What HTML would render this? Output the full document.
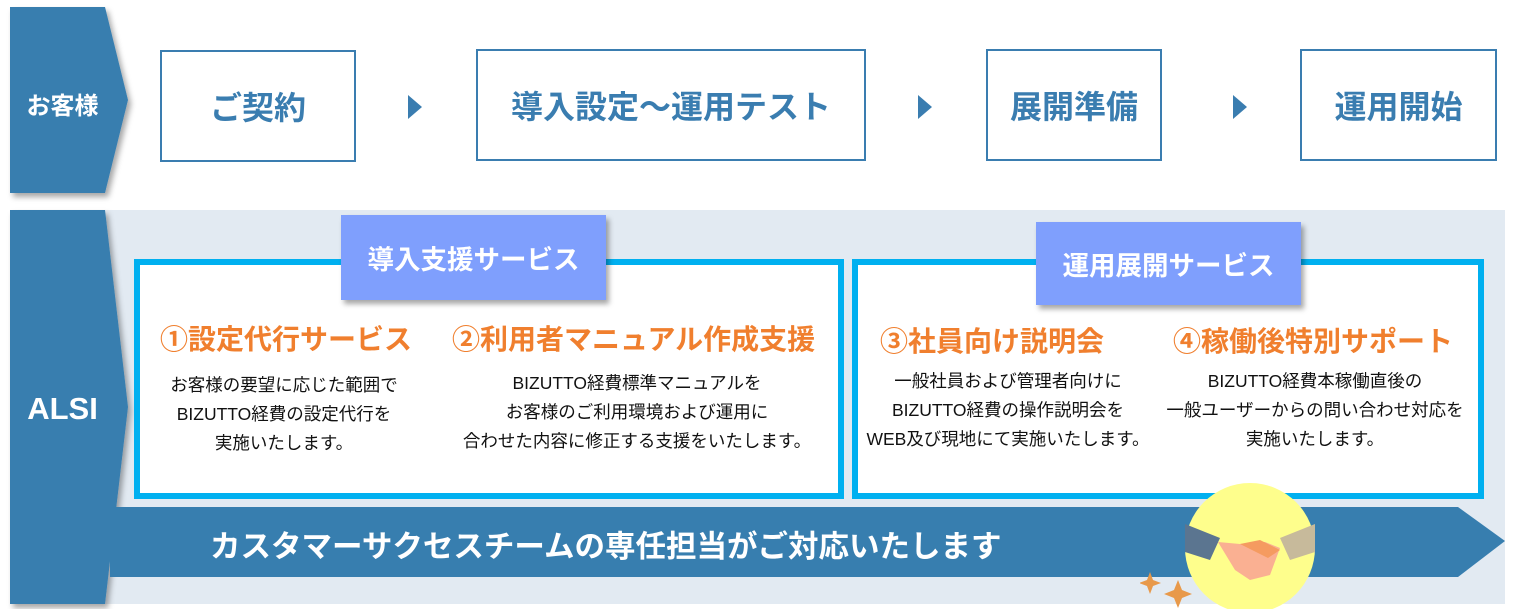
<!DOCTYPE html>
<html><head><meta charset="utf-8"><style>
*{margin:0;padding:0;box-sizing:border-box}
body{width:1516px;height:609px;background:#fff;position:relative;overflow:hidden;font-family:"Liberation Sans","Noto Sans CJK JP",sans-serif}
.a{position:absolute}
.step{position:absolute;border:2px solid #3a7db0;background:#fff;color:#3a7db0;font-weight:bold;font-size:32px;display:flex;align-items:center;justify-content:center}
.tri{position:absolute;width:0;height:0;border-top:12px solid transparent;border-bottom:12px solid transparent;border-left:14px solid #3a7db0}
.box{position:absolute;border:6px solid #00b0f0;background:#fff}
.tab{position:absolute;background:#7f9ffd;color:#fff;font-weight:bold;font-size:26.5px;display:flex;align-items:center;justify-content:center;box-shadow:3px 4px 5px rgba(0,0,0,.35)}
.h{position:absolute;color:#f07f2e;font-weight:bold;font-size:28px;white-space:nowrap}
.t{position:absolute;color:#111;font-size:17.5px;line-height:29px;text-align:center;white-space:nowrap}
</style></head><body>
<div class="a" style="left:105px;top:210px;width:1400px;height:394px;background:#e2eaf2"></div>
<svg class="a" style="left:0;top:0" width="1516" height="609">
<defs><filter id="s"><feDropShadow dx="3" dy="4" stdDeviation="3" flood-opacity=".35"/></filter></defs>
<polygon points="10,7 105,7 128,100 105,193 10,193" fill="#377eaf" filter="url(#s)"/>
<polygon points="10,210 105,210 128,407 105,604 10,604" fill="#377eaf" filter="url(#s)"/>
<polygon points="110,507 1458,507 1505,541 1458,577 110,577" fill="#377eaf"/>
</svg>
<div class="a" style="left:10px;top:86px;width:105px;text-align:center;color:#fff;font-weight:bold;font-size:24px">お客様</div>
<div class="a" style="left:10px;top:391px;width:105px;text-align:center;color:#fff;font-weight:bold;font-size:31px">ALSI</div>
<div class="step" style="left:160px;top:50px;width:196px;height:112px">ご契約</div>
<div class="step" style="left:476px;top:49px;width:390px;height:112px">導入設定～運用テスト</div>
<div class="step" style="left:986px;top:49px;width:176px;height:112px">展開準備</div>
<div class="step" style="left:1300px;top:49px;width:197px;height:112px">運用開始</div>
<div class="tri" style="left:408px;top:95px"></div>
<div class="tri" style="left:918px;top:95px"></div>
<div class="tri" style="left:1233px;top:95px"></div>
<div class="box" style="left:134px;top:259px;width:710px;height:240px"></div>
<div class="box" style="left:852px;top:259px;width:632px;height:240px"></div>
<div class="tab" style="left:341px;top:215px;width:265px;height:85px">導入支援サービス</div>
<div class="tab" style="left:1036px;top:222px;width:265px;height:83px">運用展開サービス</div>
<div class="h" style="left:160px;top:318px">①設定代行サービス</div>
<div class="h" style="left:452px;top:318px">②利用者マニュアル作成支援</div>
<div class="h" style="left:880px;top:320px">③社員向け説明会</div>
<div class="h" style="left:1173px;top:320px">④稼働後特別サポート</div>
<div class="t" style="left:284px;top:371px;transform:translateX(-50%)">お客様の要望に応じた範囲で<br>BIZUTTO経費の設定代行を<br>実施いたします。</div>
<div class="t" style="left:637px;top:369px;transform:translateX(-50%)">BIZUTTO経費標準マニュアルを<br>お客様のご利用環境および運用に<br>合わせた内容に修正する支援をいたします。</div>
<div class="t" style="left:1008px;top:367px;transform:translateX(-50%)">一般社員および管理者向けに<br>BIZUTTO経費の操作説明会を<br>WEB及び現地にて実施いたします。</div>
<div class="t" style="left:1315px;top:367px;transform:translateX(-50%)">BIZUTTO経費本稼働直後の<br>一般ユーザーからの問い合わせ対応を<br>実施いたします。</div>
<div class="a" style="left:210px;top:522px;color:#fff;font-weight:bold;font-size:30.5px;white-space:nowrap">カスタマーサクセスチームの専任担当がご対応いたします</div>
<svg class="a" style="left:1140px;top:480px" width="180" height="129">
<circle cx="110" cy="68" r="65" fill="#fefe8c"/>
<polygon points="45,44 80,58 70,80 45,72" fill="#5b7590"/>
<polygon points="175,44 140,58 150,80 175,72" fill="#c7ba9b"/>
<path d="M78,62 L100,64 L125,62 L140,68 L130,95 L110,100 L95,90 Z" fill="#fab092"/>
<path d="M100,64 L120,60 L140,70 L128,78 Z" fill="#f59b60"/>
<path d="M10,92 l3,8 8,3 -8,3 -3,8 -3,-8 -8,-3 8,-3z" fill="#e8994a"/>
<path d="M38,100 l4,10 10,4 -10,4 -4,10 -4,-10 -10,-4 10,-4z" fill="#e8994a"/>
</svg>
</body></html>
